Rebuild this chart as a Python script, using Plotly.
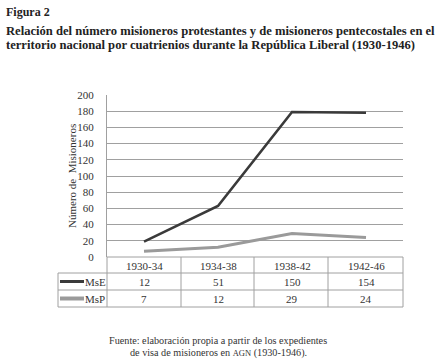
import plotly.graph_objects as go

categories = ["1930-34", "1934-38", "1938-42", "1942-46"]
mse = [12, 51, 150, 154]
msp = [7, 12, 29, 24]
y_ticks = [0, 20, 40, 60, 80, 100, 120, 140, 160, 180, 200]

W, H = 436, 362
L, R, T, B = 107, 403, 95, 257  # plot area in pixels

def px(x):
    return (x - L) / (R - L)

def py(y):
    return (B - y) / (B - T)

SERIF = "Liberation Serif"
DARK = "#3a3a3a"
GRAY = "#9a9a9a"
GRID = "#a0a0a0"
TXT = "#333333"

fig = go.Figure()
# stacked lines: MsP bottom, MsE on top of it
fig.add_trace(go.Scatter(x=list(range(4)), y=msp, name="MsP", mode="lines",
                         stackgroup="s", fill="none",
                         line=dict(color=GRAY, width=3)))
fig.add_trace(go.Scatter(x=list(range(4)), y=mse, name="MsE", mode="lines",
                         stackgroup="s", fill="none",
                         line=dict(color=DARK, width=2.6)))

shapes = []
ann = []
line_style = dict(color=GRID, width=1)

tbl_left = 58
rows = [257, 273, 290, 307]
col_edges = [107, 181, 254, 328, 403]

shapes.append(dict(type="line", xref="paper", yref="paper", x0=px(107), x1=px(403),
                   y0=py(257), y1=py(257), line=line_style))
for yy in rows[1:]:
    shapes.append(dict(type="line", xref="paper", yref="paper", x0=px(tbl_left), x1=px(403),
                       y0=py(yy), y1=py(yy), line=line_style))
for xx in col_edges:
    shapes.append(dict(type="line", xref="paper", yref="paper", x0=px(xx), x1=px(xx),
                       y0=py(257), y1=py(307), line=line_style))
shapes.append(dict(type="line", xref="paper", yref="paper", x0=px(tbl_left), x1=px(tbl_left),
                   y0=py(273), y1=py(307), line=line_style))

for i, c in enumerate(categories):
    ann.append(dict(x=i, xref="x", y=py(265.5), yref="paper", text=c, showarrow=False,
                    font=dict(family=SERIF, size=11, color=TXT), xanchor="center", yanchor="middle"))
for r, (name, vals, col, wid) in enumerate([("MsE", mse, DARK, 3), ("MsP", msp, GRAY, 4)]):
    yc = (rows[r + 1] + rows[r + 2]) / 2 + 0.5
    for i, v in enumerate(vals):
        ann.append(dict(x=i, xref="x", y=py(yc), yref="paper", text=str(v), showarrow=False,
                        font=dict(family=SERIF, size=11, color=TXT), xanchor="center", yanchor="middle"))
    shapes.append(dict(type="line", xref="paper", yref="paper", x0=px(60), x1=px(84),
                       y0=py(yc - 0.5), y1=py(yc - 0.5), line=dict(color=col, width=wid)))
    ann.append(dict(x=px(84), xref="paper", y=py(yc), yref="paper", text=name, showarrow=False,
                    font=dict(family=SERIF, size=11, color=TXT), xanchor="left", yanchor="middle", xshift=-1))

ann.append(dict(x=px(72), xref="paper", y=py(176), yref="paper", text="Número de  Misioneros",
                textangle=-90, showarrow=False, font=dict(family=SERIF, size=11, color=TXT),
                xanchor="center", yanchor="middle"))

ann.append(dict(x=px(4), xref="paper", y=py(12), yref="paper", text="<b>Figura 2</b>", showarrow=False,
                font=dict(family=SERIF, size=12, color="#222"), xanchor="left", yanchor="middle"))
ann.append(dict(x=px(4), xref="paper", y=py(30.5), yref="paper",
                text="<b>Relación del número misioneros protestantes y de misioneros pentecostales en el</b>",
                showarrow=False, align="left",
                font=dict(family=SERIF, size=12.6, color="#222"), xanchor="left", yanchor="middle"))
ann.append(dict(x=px(4), xref="paper", y=py(44.8), yref="paper",
                text="<b>territorio nacional por cuatrienios durante la República Liberal (1930-1946)</b>",
                showarrow=False, align="left",
                font=dict(family=SERIF, size=12.6, color="#222"), xanchor="left", yanchor="middle"))
ann.append(dict(x=px(218), xref="paper", y=py(340), yref="paper",
                text="Fuente: elaboración propia a partir de los expedientes",
                showarrow=False, font=dict(family=SERIF, size=10.2, color=TXT),
                xanchor="center", yanchor="middle"))
ann.append(dict(x=px(218), xref="paper", y=py(352.5), yref="paper",
                text="de visa de misioneros en <span style='font-size:8.5px'>AGN</span> (1930-1946).",
                showarrow=False, font=dict(family=SERIF, size=10.2, color=TXT),
                xanchor="center", yanchor="middle"))

fig.update_layout(
    width=W, height=H,
    margin=dict(l=L, r=W - R, t=T, b=H - B),
    paper_bgcolor="white", plot_bgcolor="white",
    showlegend=False,
    shapes=shapes, annotations=ann,
    xaxis=dict(range=[-0.5, 3.5], showticklabels=False, showgrid=False, zeroline=False,
               showline=False, ticks=""),
    yaxis=dict(range=[0, 200], tickvals=y_ticks, showgrid=True, gridcolor=GRID, gridwidth=1,
               zeroline=False, showline=True, linecolor=GRID, linewidth=1, ticks="",
               ticklabelstandoff=10,
               tickfont=dict(family=SERIF, size=11, color=TXT)),
)

fig.write_html("out.html")
